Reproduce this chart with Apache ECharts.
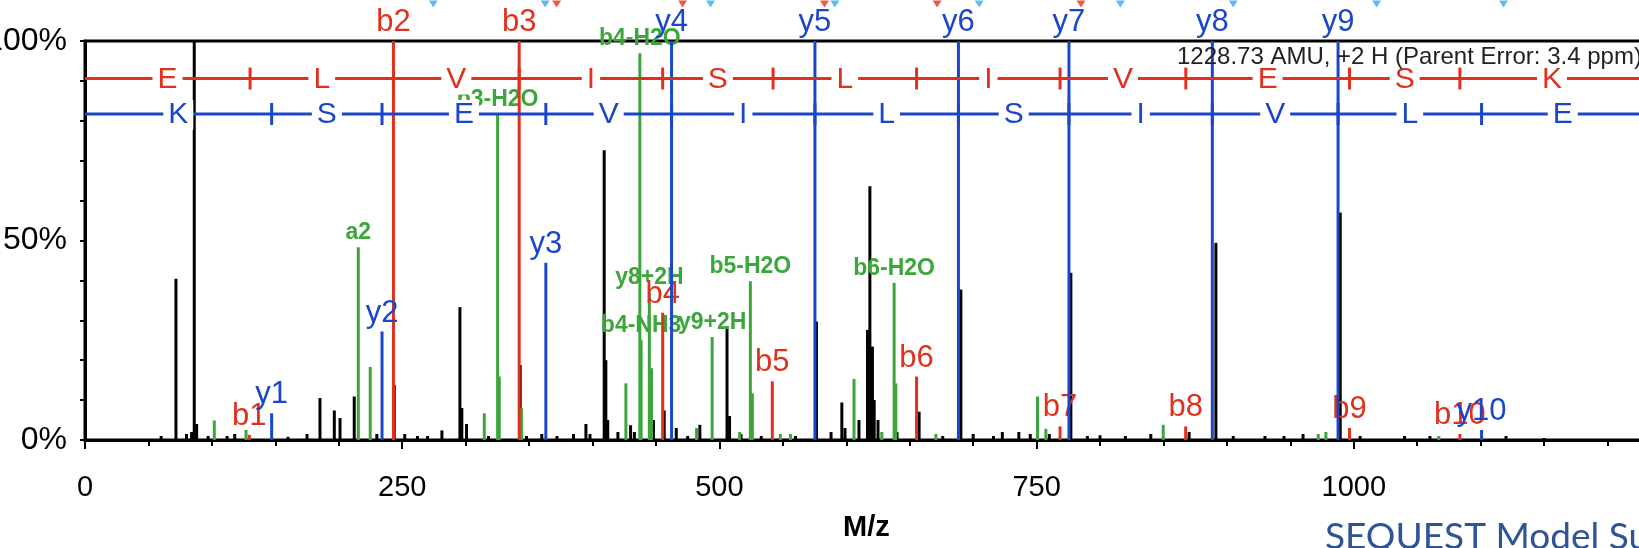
<!DOCTYPE html>
<html>
<head>
<meta charset="utf-8">
<script src="https://cdn.jsdelivr.net/npm/echarts@6/dist/echarts.min.js"></script>
<style>
  html, body { margin: 0; padding: 0; background: #fff; overflow: hidden; }
  #container { width: 1639px; height: 548px; }
</style>
</head>
<body>
<div id="container"></div>
<script>
// unmatched peaks [m/z, intensity %]
const blackPeaks = [
  [60, 1], [71.7, 40.4], [80, 1.5], [84, 2], [86.1, 100], [88, 4], [97, 1], [112, 1], [118, 1.5],
  [160, 0.8], [175, 1.5], [185.2, 10.5], [196.5, 7.4], [201, 5.5], [212.2, 10.9], [230, 1.5],
  [243.7, 13.8], [252, 1.5], [262, 1], [270, 1], [281.3, 2.4], [295.5, 33.3], [297, 8], [300.7, 4],
  [318, 1], [343, 18.8], [348, 1], [360, 1.5], [372, 1], [385, 1.5], [394.8, 4], [398, 1.5],
  [409.2, 72.6], [410.5, 20], [412, 5], [420, 2], [430, 3.7], [433, 2], [448, 5], [456.5, 7.4],
  [466, 3], [475, 1], [484.6, 3.8], [506, 28.5], [508, 6], [517, 1.5], [533, 1], [560, 1],
  [576.5, 29.7], [588, 2], [596.5, 9.4], [599, 3], [610, 5], [616.7, 27.6], [618.6, 63.6],
  [620.6, 23.4], [622, 10], [625, 5], [640, 2], [657.4, 7.1], [676, 1], [690.3, 37.7], [700, 1.5],
  [716, 1], [723, 2], [736, 2], [745, 1.5], [760, 1.5], [777, 41.9], [790, 1], [800, 1.2],
  [820, 1], [840, 1.5], [870.2, 2], [891.3, 49.4], [905, 1], [930, 1], [945, 1], [960, 1.5],
  [989.3, 57], [1005, 1], [1040, 1], [1060, 1], [1120, 1], [1150, 0.5]
]
// neutral loss / other matched peaks
const greenPeaks = [
  [101.9, 4.9], [126.9, 2.5], [215.4, 48.3], [224.8, 18.3], [314.7, 6.7], [325.2, 81.6],
  [326.5, 15.9], [344, 8], [426.3, 14.2], [437.3, 96.9], [438.3, 25], [444.8, 37], [446.5, 18],
  [482, 3], [494.3, 25.8], [516, 2], [524.4, 39.8], [526, 11.7], [548, 1.5], [556, 1.5],
  [606.1, 15.3], [628, 2], [637.7, 39.4], [639, 14.2], [670.6, 1.5], [750.7, 10.9], [757.3, 2.8],
  [849.8, 3.8], [972, 1.5], [978, 2], [1067, 1]
]
const greenLabels = ['', '', 'a2', '', '', 'b3-H2O', '', '', '', 'b4-H2O', 'b4-NH3', 'y8+2H', '',
  '', 'y9+2H', '', 'b5-H2O', '', '', '', '', '', 'b6-H2O', '', '', '', '', '', '', '', '']
// b ions
const redPeaks = [
  [129.5, 1.3], [243.1, 120], [342.2, 120], [455.3, 31.9], [541.7, 14.7], [655.4, 15.9],
  [768.5, 3.4], [867.5, 3.4], [996.6, 3], [1083.6, 1.5]
]
const redLabels = ['b1', 'b2', 'b3', 'b4', 'b5', 'b6', 'b7', 'b8', 'b9', 'b10']
// y ions
const bluePeaks = [
  [147.1, 6.7], [234.1, 27.2], [363.2, 44.4], [462.3, 120], [575.3, 120], [688.4, 120],
  [775.5, 120], [888.5, 120], [987.6, 120], [1100.7, 2.5]
]
const blueLabels = ['y1', 'y2', 'y3', 'y4', 'y5', 'y6', 'y7', 'y8', 'y9', 'y10']

// sequence ladders
const parentMass = 1228.73
const bIons = [130.1, 243.1, 342.2, 455.3, 542.3, 655.4, 768.5, 867.6, 996.6, 1083.6]
const yIons = [147.1, 234.1, 363.2, 462.3, 575.3, 688.4, 775.5, 888.5, 987.6, 1100.7]
const seqB = ['E', 'L', 'V', 'I', 'S', 'L', 'I', 'V', 'E', 'S', 'K']
const seqY = ['K', 'S', 'E', 'V', 'I', 'L', 'S', 'I', 'V', 'L', 'E']

// markers on top edge
const triBlue = [274.5, 362.7, 493, 591, 704.8, 816, 905, 1018, 1118]
const triRed = [371.7, 471, 582.8, 671.6, 785]

const xTicks = [0, 250, 500, 750, 1000]

const RED = '#e0301e'
const BLUE = '#1a47c8'
const GREEN = '#3ca63c'
const FONT = 'Liberation Sans, Arial, sans-serif'

function ladderRows(ions) {
  const bounds = [0].concat(ions, [parentMass])
  const rows = []
  for (let i = 0; i < bounds.length - 1; i++) rows.push([bounds[i], bounds[i + 1]])
  return rows
}

function ladderSeries(ions, seq, color, yVal) {
  return {
    type: 'custom',
    clip: false,
    silent: true,
    z: 5,
    data: ladderRows(ions),
    renderItem: function (params, api) {
      const s = api.value(0), e = api.value(1)
      const p0 = api.coord([s, yVal]), p1 = api.coord([e, yVal]), pm = api.coord([(s + e) / 2, yVal])
      const children = [
        { type: 'line', shape: { x1: p0[0], y1: p0[1], x2: p1[0], y2: p1[1] }, style: { stroke: color, lineWidth: 3 } },
        {
          type: 'text', x: pm[0], y: pm[1] + 1,
          style: { text: seq[params.dataIndex], fill: color, fontSize: 30, fontFamily: FONT,
            align: 'center', verticalAlign: 'middle', backgroundColor: '#fff', padding: [0, 5] }
        }
      ]
      if (e < parentMass) {
        children.push({ type: 'line', shape: { x1: p1[0], y1: p1[1] - 11, x2: p1[0], y2: p1[1] + 11 },
          style: { stroke: color, lineWidth: 3 } })
      }
      return { type: 'group', children: children }
    }
  }
}

function peakSeries(peaks, labels, color, font, z) {
  return {
    type: 'custom',
    clip: false,
    silent: true,
    z: z,
    data: peaks,
    renderItem: function (params, api) {
      const m = api.value(0), h = Math.min(api.value(1), 100)
      const base = api.coord([m, 0]), top = api.coord([m, h])
      const children = [
        { type: 'line', shape: { x1: base[0], y1: base[1], x2: top[0], y2: top[1] }, style: { stroke: color, lineWidth: 3 } }
      ]
      const lab = labels ? labels[params.dataIndex] : ''
      if (lab) {
        children.push({
          type: 'text', x: top[0], y: top[1] - 3,
          style: { text: lab, fill: color, font: font, align: 'center', verticalAlign: 'bottom' }
        })
      }
      return { type: 'group', children: children }
    }
  }
}

var myChart = echarts.init(document.getElementById('container'))

const option = {
  backgroundColor: '#fff',
  animation: false,
  grid: { left: 85, right: -32, top: 41, bottom: 108, show: true, borderColor: '#000', borderWidth: 3,
    outerBoundsMode: 'none', containLabel: false },
  xAxis: {
    type: 'value', min: 0, max: 1250, interval: 250,
    axisLine: { lineStyle: { color: '#000', width: 3 } },
    axisTick: { length: 9, lineStyle: { color: '#000', width: 2 } },
    minorTick: { show: true, splitNumber: 5, length: 6, lineStyle: { color: '#000', width: 2 } },
    splitLine: { show: false },
    axisLabel: { fontSize: 29, color: '#000', margin: 33, fontFamily: FONT, hideOverlap: false,
      formatter: function (v) { return xTicks.indexOf(v) >= 0 ? String(v) : '' } }
  },
  yAxis: {
    type: 'value', min: 0, max: 100, interval: 50,
    axisLine: { show: true, lineStyle: { color: '#000', width: 3 } },
    axisTick: { show: true, length: 5, lineStyle: { color: '#000', width: 2 } },
    minorTick: { show: true, splitNumber: 5, length: 5, lineStyle: { color: '#000', width: 2 } },
    splitLine: { show: false },
    axisLabel: { formatter: '{value}%', fontSize: 32, color: '#000', margin: 18, fontFamily: FONT }
  },
  series: [
    peakSeries(blackPeaks, null, '#000', '', 2),
    peakSeries(greenPeaks, greenLabels, GREEN, 'bold 23px ' + FONT, 3),
    peakSeries(redPeaks, redLabels, RED, '31px ' + FONT, 4),
    peakSeries(bluePeaks, blueLabels, BLUE, '31px ' + FONT, 4),
    ladderSeries(bIons, seqB, RED, 90.6),
    ladderSeries(yIons, seqY, BLUE, 81.7),
    {
      type: 'scatter', clip: false, silent: true, symbol: 'triangle', symbolRotate: 180,
      symbolSize: [9, 7], symbolOffset: [0, -37], itemStyle: { color: '#35a9f0' },
      data: triBlue.map(function (m) { return [m, 100] })
    },
    {
      type: 'scatter', clip: false, silent: true, symbol: 'triangle', symbolRotate: 180,
      symbolSize: [9, 7], symbolOffset: [0, -37], itemStyle: { color: '#e8321a' },
      data: triRed.map(function (m) { return [m, 100] })
    }
  ],
  graphic: [
    { type: 'text', left: 1177, top: 45, z: 10,
      style: { text: '1228.73 AMU, +2 H (Parent Error: 3.4 ppm)', fill: '#222', font: '24px ' + FONT } },
    { type: 'text', left: 843, top: 513,
      style: { text: 'M/z', fill: '#000', font: 'bold 29px ' + FONT } },
    { type: 'text', left: 1325, top: 519,
      style: { text: 'SEQUEST Model Summary', fill: '#2f5496', font: '37px Lato, "Open Sans", sans-serif' } }
  ]
}

myChart.setOption(option)
</script>
</body>
</html>
